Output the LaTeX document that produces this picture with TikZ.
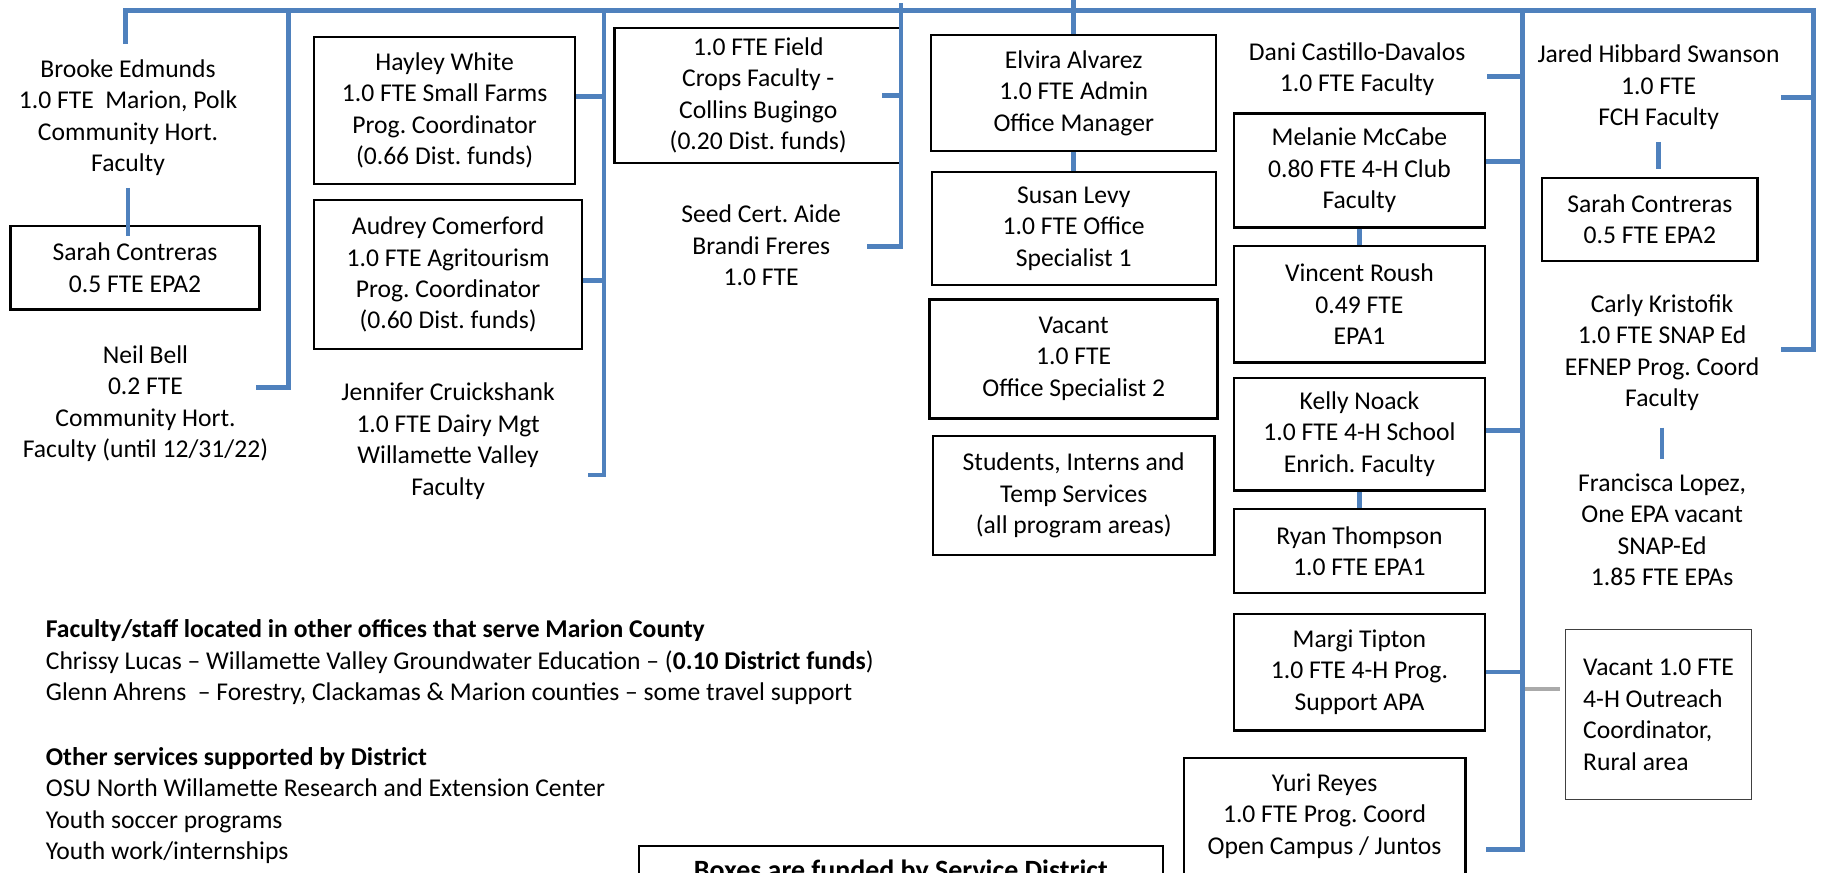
\documentclass[tikz,border=0pt]{standalone}
\usepackage{fontspec}
\setmainfont{Carlito}
\usepackage{xcolor}
\usepackage{tikz}
\usetikzlibrary{positioning}

\definecolor{orgblue}{RGB}{79,129,189}
\definecolor{orggray}{RGB}{170,170,170}
\frenchspacing

\begin{document}
\begin{tikzpicture}
                    [x=0.5pt, y=-0.5pt,
                    every node/.style={font=\fontsize{11}{13.5}\selectfont,
                        align=center, inner sep=0pt},
                    box/.style={rectangle,
                        draw=black, line width=1pt},
                    thickbox/.style={box, line width=1.3pt},
                    thinbox/.style={rectangle,
                        draw=black!75, line width=0.6pt},
                    person/.style={rectangle},
                    note/.style={anchor=west, align=left},
                    link/.style={draw=orgblue, line width=2pt},
                    greylink/.style={draw=orggray, line width=2pt}]

                    \useasboundingbox (0,0) rectangle (1568,750);
                    \clip (0,0) rectangle (1568,750);

                    % first column
                    \node[person] (brooke) at (110,101)
                        {Brooke Edmunds\\1.0 FTE~ Marion, Polk\\Community Hort.\\Faculty};
                    \node[box, minimum width=107pt, minimum height=36pt]
                        (sarahA) at (116,230) {Sarah Contreras\\0.5 FTE EPA2};
                    \node[person] (neil) at (125,347)
                        {Neil Bell\\0.2 FTE\\Community Hort.\\Faculty (until 12/31/22)};

                    % second column
                    \node[box, minimum width=112pt, minimum height=63pt]
                        (hayley) at (382,95)
                        {Hayley White\\1.0 FTE Small Farms\\Prog. Coordinator\\(0.66 Dist. funds)};
                    \node[box, minimum width=115pt, minimum height=64pt, below=6pt of hayley, xshift=1.5pt]
                        (audrey)
                        {Audrey Comerford\\1.0 FTE Agritourism\\Prog. Coordinator\\(0.60 Dist. funds)};
                    \node[person] (jennifer) at (385,379)
                        {Jennifer Cruickshank\\1.0 FTE Dairy Mgt\\Willamette Valley\\Faculty};

                    % third column
                    \node[box, minimum width=123.5pt, minimum height=58pt]
                        (field) at (651.5,82)
                        {1.0 FTE Field\\Crops Faculty -\\Collins Bugingo\\(0.20 Dist. funds)};
                    \node[person] (seed) at (654,211)
                        {Seed Cert. Aide\\Brandi Freres\\1.0 FTE};

                    % office
                    \node[box, minimum width=122.5pt, minimum height=50pt]
                        (elvira) at (922.5,80)
                        {Elvira Alvarez\\1.0 FTE Admin\\Office Manager};
                    \node[box, minimum width=122pt, minimum height=48.5pt, below=8pt of elvira]
                        (susan) {Susan Levy\\1.0 FTE Office\\Specialist 1};
                    \node[thickbox, minimum width=123.5pt, minimum height=51pt, below=5pt of susan]
                        (vacant) {Vacant\\1.0 FTE\\Office Specialist 2};
                    \node[box, minimum width=121pt, minimum height=51pt, below=6.5pt of vacant]
                        (students) {Students, Interns and\\Temp Services\\(all program areas)};

                    % 4-H column
                    \node[person] (dani) at (1166,59.5)
                        {Dani Castillo-Davalos\\1.0 FTE Faculty};
                    \node[box, minimum width=108pt, minimum height=49pt]
                        (melanie) at (1168,146.5)
                        {Melanie McCabe\\0.80 FTE 4-H Club\\Faculty};
                    \node[box, minimum width=108pt, minimum height=50pt, below=7pt of melanie]
                        (vincent) {Vincent Roush\\0.49 FTE\\EPA1};
                    \node[box, minimum width=108pt, minimum height=48.5pt, below=5.5pt of vincent]
                        (kelly) {Kelly Noack\\1.0 FTE 4-H School\\Enrich. Faculty};
                    \node[box, minimum width=108pt, minimum height=36pt, below=7pt of kelly]
                        (ryan) {Ryan Thompson\\1.0 FTE EPA1};
                    \node[box, minimum width=108pt, minimum height=50pt, below=8pt of ryan]
                        (margi) {Margi Tipton\\1.0 FTE 4-H Prog.\\Support APA};
                    \node[box, minimum width=121pt, minimum height=50pt]
                        (yuri) at (1138,701)
                        {Yuri Reyes\\1.0 FTE Prog. Coord\\Open Campus / Juntos};

                    % FCH column
                    \node[person] (jared) at (1425,75)
                        {Jared Hibbard Swanson\\1.0 FTE\\FCH Faculty};
                    \node[box, minimum width=92.5pt, minimum height=35.5pt]
                        (sarahB) at (1417.5,188.5) {Sarah Contreras\\0.5 FTE EPA2};
                    \node[person] (carly) at (1428,303)
                        {Carly Kristofik\\1.0 FTE SNAP Ed\\EFNEP Prog. Coord\\Faculty};
                    \node[person] (francisca) at (1428,455)
                        {Francisca Lopez,\\One EPA vacant\\SNAP-Ed\\1.85 FTE EPAs};
                    \node[thinbox, align=left, minimum width=80pt, minimum height=73pt]
                        (vacantR) at (1425,614)
                        {Vacant 1.0 FTE\\4-H Outreach\\Coordinator,\\Rural area};

                    % notes at the bottom
                    \node[note] (offices) at (39,569)
                        {\textbf{Faculty/staff located in other offices that serve Marion County}\\
                        Chrissy Lucas – Willamette Valley Groundwater Education – (\textbf{0.10 District funds})\\
                        Glenn Ahrens~ – Forestry, Clackamas \& Marion counties – some travel support};
                    \node[note] (services) at (39,692)
                        {\textbf{Other services supported by District}\\
                        OSU North Willamette Research and Extension Center\\
                        Youth soccer programs\\
                        Youth work/internships};
                    \node[box, anchor=north, minimum width=225pt, inner ysep=6pt,
                        font=\fontsize{12}{14}\selectfont\bfseries]
                        (funded) at (774,726) {Boxes are funded by Service District};

                    % connectors
                    \coordinate (top) at (0,0);
                    \coordinate (barL) at (108,9);
                    \coordinate (barR) at (1558,9);
                    \coordinate (brookeS) at (108,38);
                    \coordinate (tA) at (248,333);
                    \coordinate (neilS) at (220,333);
                    \coordinate (tB) at (519,408);
                    \coordinate (jenS) at (505,408);
                    \coordinate (tCtop) at (774,3);
                    \coordinate (tC) at (774,212);
                    \coordinate (seedS) at (745,212);
                    \coordinate (tE) at (1308,730);
                    \coordinate (yuriS) at (1277,730);
                    \coordinate (daniS) at (1278,66);
                    \coordinate (vacS) at (1340,592);
                    \coordinate (jaredS) at (1530,84);
                    \coordinate (carlyS) at (1530,300);

                    \draw[link] (brookeS) -- (barL) -- (barR) -- (barR |- carlyS) -- (carlyS);
                    \draw[link] (jaredS) -- (jaredS -| barR);
                    \draw[link] (tA |- barL) -- (tA) -- (neilS);
                    \draw[link] (tB |- barL) -- (tB) -- (jenS);
                    \draw[link] ([yshift=6pt]hayley.east) -- ([yshift=6pt]hayley.east -| tB);
                    \draw[link] ([yshift=-2.5pt]audrey.east) -- ([yshift=-2.5pt]audrey.east -| tB);
                    \draw[link] (tCtop) -- (tC) -- (seedS);
                    \draw[link] ([xshift=-9pt]field.east) -- (field.east -| tC);
                    \draw[link] (elvira.north |- top) -- (elvira.north);
                    \draw[link] (elvira) -- (susan);
                    \draw[greylink] (vacS -| tE) -- (vacS);
                    \draw[link] (tE |- barL) -- (tE) -- (yuriS);
                    \draw[link] (daniS) -- (daniS -| tE);
                    \draw[link] ([yshift=3.75pt]melanie.east) -- ([yshift=3.75pt]melanie.east -| tE);
                    \draw[link] ([yshift=1.5pt]kelly.east) -- ([yshift=1.5pt]kelly.east -| tE);
                    \draw[link] (margi.east) -- (margi.east -| tE);
                    \draw[link] (melanie) -- (vincent);
                    \draw[link] (kelly) -- (ryan);
                    \draw[link] ([yshift=-5pt]brooke.south) -- ([yshift=-5pt]brooke.south |- sarahA.north);
                    \draw[link] ([yshift=-5pt]jared.south) -- ([yshift=3.5pt]jared.south |- sarahB.north);
                    \draw[link] ([yshift=-7pt]carly.south) -- ([yshift=6pt]francisca.north);
                \end{tikzpicture}
\end{document}
